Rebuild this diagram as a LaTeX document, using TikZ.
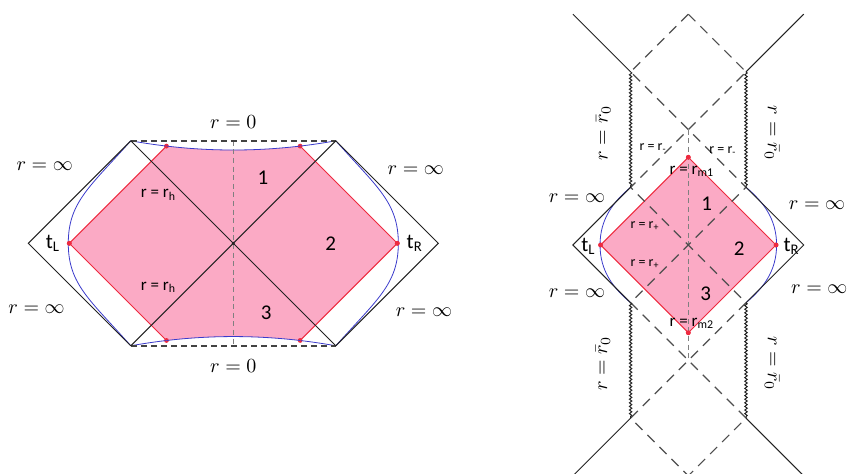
\documentclass[tikz,border=0pt]{standalone}
\usepackage{fontspec}
\usetikzlibrary{decorations.pathmorphing}
\newfontfamily\paintfont{Carlito}
\definecolor{penpink}{HTML}{FBAAC5}
\definecolor{penred}{HTML}{EE2A3F}
\definecolor{penblue}{HTML}{3A3ACB}
\definecolor{penfg}{HTML}{222222}
\newcommand{\lsub}[1]{\textsubscript{#1}}

\begin{document}
\begin{tikzpicture}[x=0.5pt,y=0.5pt]
  \tikzstyle{edge}=[draw=penfg, line width=0.5pt]
  \tikzstyle{rim}=[draw=penfg!85, line width=0.9pt, dash pattern=on 3pt off 2pt]
  \tikzstyle{midline}=[draw=gray, line width=0.4pt, dash pattern=on 2.5pt off 1.8pt]
  \tikzstyle{horizon}=[draw=penfg!80, line width=0.6pt, dash pattern=on 5pt off 3.5pt]
  \tikzstyle{singular}=[draw=penfg, line width=0.5pt, decorate,
                        decoration={snake, amplitude=0.6pt, segment length=1.8pt}]
  \tikzstyle{slice}=[draw=penblue, line width=0.4pt]
  \tikzstyle{wedge}=[draw=penred, line width=0.5pt]
  \tikzstyle{reddot}=[circle, fill=penred, inner sep=0pt, minimum size=2.4pt]
  \tikzstyle{mathlab}=[inner sep=1pt]
  \tikzstyle{paint}=[font=\paintfont\fontsize{8.5}{9}\selectfont, inner sep=1pt]
  \tikzstyle{bigpaint}=[font=\paintfont\fontsize{10.5}{11}\selectfont, inner sep=1pt]

  \path[use as bounding box] (0,0) rectangle (849,474);

  % Left diagram: the hexagon with the pink wedge.
  \begin{scope}[shift={(233.3,230.7)}, x=51.25pt, y=51.25pt]
    \coordinate (lC) at (0,0);
    \coordinate (lW) at (-2,0);
    \coordinate (lE) at (2,0);
    \coordinate (lNW) at (-1,1);
    \coordinate (lNE) at (1,1);
    \coordinate (lSW) at (-1,-1);
    \coordinate (lSE) at (1,-1);
    \coordinate (lN) at (0,1);
    \coordinate (lS) at (0,-1);

    \begin{scope}
      \clip (-2,1) -- (lNW) .. controls (-0.33,0.88) and (0.33,0.88) .. (lNE)
        -- (2,1) -- (2,-1) -- (lSE) .. controls (0.33,-0.88) and (-0.33,-0.88) .. (lSW)
        -- (-2,-1) -- cycle;
      \fill[penpink] (-1.6,0) -- (-0.5,1.1) -- (0.5,1.1) -- (1.6,0)
        -- (0.5,-1.1) -- (-0.5,-1.1) -- cycle;
    \end{scope}

    \node[reddot] (ltL) at (-1.6,0) {};
    \node[reddot] (ltR) at (1.6,0) {};
    \node[reddot] (lpNW) at (-0.652,0.948) {};
    \node[reddot] (lpNE) at (0.652,0.948) {};
    \node[reddot] (lpSW) at (-0.652,-0.948) {};
    \node[reddot] (lpSE) at (0.652,-0.948) {};

    \draw[slice] (lNW) .. controls (-0.33,0.88) and (0.33,0.88) .. (lNE);
    \draw[slice] (lSW) .. controls (-0.33,-0.88) and (0.33,-0.88) .. (lSE);
    \draw[slice] (lNW) .. controls (-1.4,0.55) and (-1.61,0.4) .. (-1.61,0)
      .. controls (-1.61,-0.4) and (-1.4,-0.55) .. (lSW);
    \draw[slice] (lNE) .. controls (1.4,0.55) and (1.61,0.4) .. (1.61,0)
      .. controls (1.61,-0.4) and (1.4,-0.55) .. (lSE);

    \draw[wedge] (lpNW.center) -- (ltL.center) -- (lpSW.center);
    \draw[wedge] (lpNE.center) -- (ltR.center) -- (lpSE.center);

    \draw[midline] (lN) -- (lS);
    \draw[rim] (lNW) -- (lNE);
    \draw[rim] (lSW) -- (lSE);
    \draw[edge] (lNW) -- (lW) -- (lSW);
    \draw[edge] (lNE) -- (lE) -- (lSE);
    \draw[edge] (lNW) -- (lSE);
    \draw[edge] (lNE) -- (lSW);
    \fill[penfg] (lC) circle (0.8pt);
    \node[reddot] at (ltL) {};
    \node[reddot] at (ltR) {};

    \node[mathlab] (lr0top) at (0,1.18) {$r=0$};
    \node[mathlab] (lr0bot) at (0,-1.2) {$r=0$};
    \node[mathlab] (linfNW) at (-1.84,0.75) {$r=\infty$};
    \node[mathlab] (linfNE) at (1.78,0.71) {$r=\infty$};
    \node[mathlab] (linfSW) at (-1.92,-0.64) {$r=\infty$};
    \node[mathlab] (linfSE) at (1.86,-0.67) {$r=\infty$};
    \node[bigpaint] (ltLlab) at (-1.76,0) {t\lsub{L}};
    \node[bigpaint] (ltRlab) at (1.77,0) {t\lsub{R}};
    \node[bigpaint] (lone) at (0.29,0.64) {1};
    \node[bigpaint] (ltwo) at (0.95,0) {2};
    \node[bigpaint] (lthree) at (0.32,-0.68) {3};
    \node[paint] (lrhtop) at (-0.73,0.47) {r = r\lsub{h}};
    \node[paint] (lrhbot) at (-0.73,-0.43) {r = r\lsub{h}};
  \end{scope}

  % Right diagram: the chain of diamonds with the singular walls.
  \begin{scope}[shift={(688.3,229)}, x=28.85pt, y=28.85pt]
    \coordinate (rTop) at (0,4);
    \coordinate (rBot) at (0,-4);
    \coordinate (rX1) at (0,2);
    \coordinate (rX3) at (0,-2);
    \coordinate (rC) at (0,0);
    \coordinate (rW3) at (-1,3);
    \coordinate (rE3) at (1,3);
    \coordinate (rW1) at (-1,1);
    \coordinate (rE1) at (1,1);
    \coordinate (rWm1) at (-1,-1);
    \coordinate (rEm1) at (1,-1);
    \coordinate (rWm3) at (-1,-3);
    \coordinate (rEm3) at (1,-3);
    \coordinate (rW) at (-2,0);
    \coordinate (rE) at (2,0);
    \coordinate (rFarNW) at (-2,4);
    \coordinate (rFarNE) at (2,4);
    \coordinate (rFarSW) at (-2,-4);
    \coordinate (rFarSE) at (2,-4);

    \node[reddot] (rtL) at (-1.52,0) {};
    \node[reddot] (rtR) at (1.52,0) {};
    \node[reddot] (rm1) at (0,1.52) {};
    \node[reddot] (rm2) at (0,-1.52) {};
    \fill[penpink] (rtL.center) -- (rm1.center) -- (rtR.center) -- (rm2.center) -- cycle;
    \draw[wedge] (rtL.center) -- (rm1.center) -- (rtR.center) -- (rm2.center) -- cycle;

    \draw[slice] (rW1) .. controls (-1.3,0.75) and (-1.53,0.45) .. (-1.53,0)
      .. controls (-1.53,-0.45) and (-1.3,-0.75) .. (rWm1);
    \draw[slice] (rE1) .. controls (1.3,0.75) and (1.53,0.45) .. (1.53,0)
      .. controls (1.53,-0.45) and (1.3,-0.75) .. (rEm1);

    \draw[midline] (rX1) -- (rX3);
    \draw[horizon] (rTop) -- (rW3) -- (rE1) -- (rWm1) -- (rEm3) -- (rBot);
    \draw[horizon] (rTop) -- (rE3) -- (rW1) -- (rEm1) -- (rWm3) -- (rBot);

    \draw[singular] (rW3) -- (rW1);
    \draw[singular] (rE3) -- (rE1);
    \draw[singular] (rWm1) -- (rWm3);
    \draw[singular] (rEm1) -- (rEm3);
    \draw[edge] (rW3) -- (rFarNW);
    \draw[edge] (rE3) -- (rFarNE);
    \draw[edge] (rWm3) -- (rFarSW);
    \draw[edge] (rEm3) -- (rFarSE);
    \draw[edge] (rW1) -- (rW) -- (rWm1);
    \draw[edge] (rE1) -- (rE) -- (rEm1);
    \foreach \n in {rtL,rtR,rm1,rm2} {
      \node[reddot] at (\n) {};
    }

    \node[mathlab, rotate=90] (rbarNW) at (-1.47,1.94) {$r=\bar{r}_0$};
    \node[mathlab, rotate=-90] (rbarNE) at (1.45,1.94) {$r=\bar{r}_0$};
    \node[mathlab, rotate=90] (rbarSW) at (-1.48,-2.05) {$r=\bar{r}_0$};
    \node[mathlab, rotate=-90] (rbarSE) at (1.45,-2.05) {$r=\bar{r}_0$};
    \node[mathlab] (rinfNW) at (-1.93,0.81) {$r=\infty$};
    \node[mathlab] (rinfNE) at (2.23,0.69) {$r=\infty$};
    \node[mathlab] (rinfSW) at (-1.93,-0.84) {$r=\infty$};
    \node[mathlab] (rinfSE) at (2.27,-0.76) {$r=\infty$};
    \node[paint, font=\paintfont\fontsize{7}{8}\selectfont] (rminW) at (-0.61,1.68) {r = r\lsub{-}};
    \node[paint, font=\paintfont\fontsize{7}{8}\selectfont] (rminE) at (0.6,1.63) {r = r\lsub{-}};
    \node[paint, font=\paintfont\fontsize{7}{8}\selectfont] (rplusN) at (-0.75,0.33) {r = r\lsub{+}};
    \node[paint, font=\paintfont\fontsize{7}{8}\selectfont] (rplusS) at (-0.75,-0.33) {r = r\lsub{+}};
    \node[paint] (rm1lab) at (0.06,1.27) {r = r\lsub{m1}};
    \node[paint] (rm2lab) at (0.06,-1.36) {r = r\lsub{m2}};
    \node[bigpaint] (rone) at (0.32,0.72) {1};
    \node[bigpaint] (rtwo) at (0.88,-0.06) {2};
    \node[bigpaint] (rthree) at (0.3,-0.84) {3};
    \node[bigpaint] (rtLlab) at (-1.73,-0.02) {t\lsub{L}};
    \node[bigpaint] (rtRlab) at (1.79,-0.02) {t\lsub{R}};
  \end{scope}
\end{tikzpicture}
\end{document}
